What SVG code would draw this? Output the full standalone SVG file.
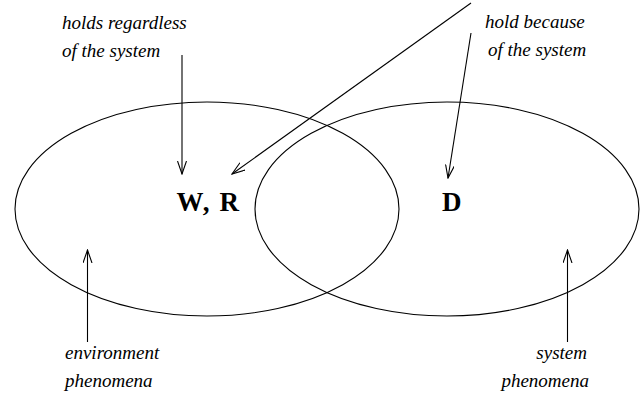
<svg xmlns="http://www.w3.org/2000/svg" width="640" height="393" viewBox="0 0 640 393">
<style>
.e{fill:none;stroke:#000;stroke-width:1.1}
.c{fill:none;stroke:#000;stroke-width:1.1;marker-end:url(#ah)}
text{font-family:'Liberation Serif','Times New Roman',Times,'DejaVu Serif',serif;fill:#000}
.lbl{font-style:italic;font-size:19px}
.big{font-weight:bold;font-size:27px}
</style>
<defs>
<marker id="ah" markerUnits="userSpaceOnUse" markerWidth="14" markerHeight="10" refX="13" refY="4.5" orient="auto">
<path d="M0,0 L13,4.5 L0,9" fill="none" stroke="#000" stroke-width="1.1"/>
</marker>
</defs>
<rect width="640" height="393" fill="#fff"/>
<g id="env">
<ellipse class="e" cx="207" cy="209" rx="192" ry="107"/>
<text class="big" x="176.5" y="211" textLength="62.5">W, R</text>
</g>
<g id="sys">
<ellipse class="e" cx="447" cy="209" rx="192" ry="107"/>
<text class="big" x="442" y="211">D</text>
</g>
<g id="labels">
<text class="lbl" x="62" y="29">holds regardless</text>
<text class="lbl" x="62" y="57">of the system</text>
<text class="lbl" x="485" y="28">hold because</text>
<text class="lbl" x="488" y="56">of the system</text>
<text class="lbl" x="65" y="359">environment</text>
<text class="lbl" x="65" y="387">phenomena</text>
<text class="lbl" x="587" y="359" text-anchor="end">system</text>
<text class="lbl" x="589" y="387" text-anchor="end">phenomena</text>
</g>
<g id="connectors">
<line class="c" x1="182" y1="55" x2="182" y2="174"/>
<line class="c" x1="471" y1="3" x2="232" y2="174"/>
<line class="c" x1="471" y1="33" x2="448" y2="178"/>
<line class="c" x1="87.5" y1="342" x2="87.5" y2="250"/>
<line class="c" x1="567.5" y1="342" x2="567.5" y2="250"/>
</g>
</svg>
